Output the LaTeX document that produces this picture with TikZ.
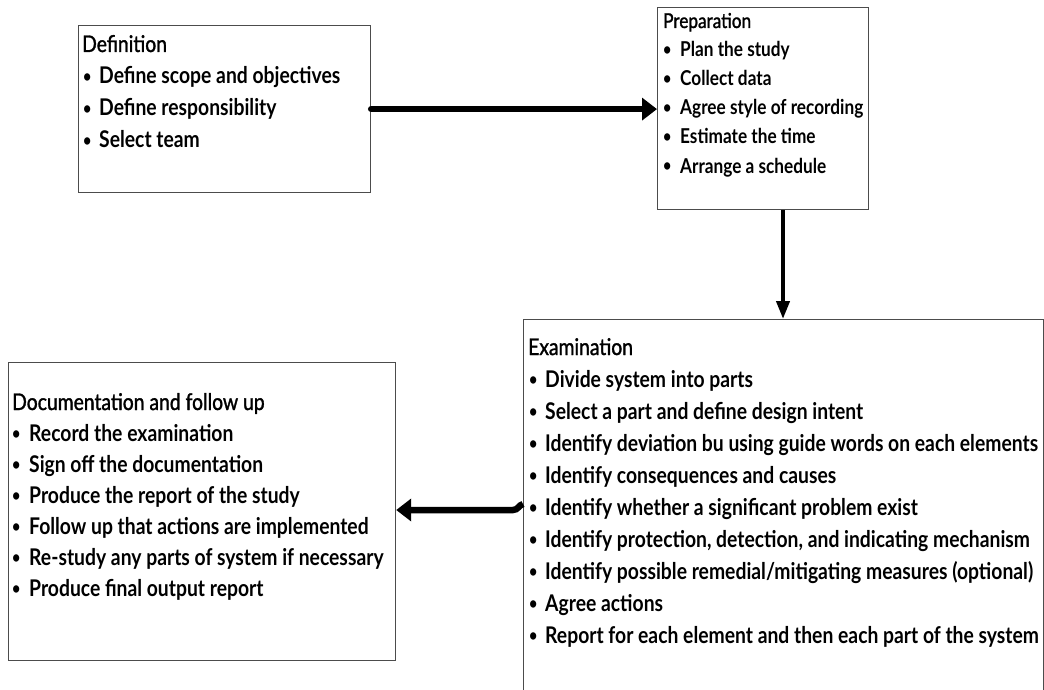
\documentclass[tikz,border=0pt]{standalone}
\usepackage{fontspec}
\setmainfont{Lato}[FakeStretch=0.84]
\newfontfamily\medfont{Lato}[FakeStretch=0.84, FakeBold=1.3]
\usetikzlibrary{arrows.meta}
\newcommand\dotmark[1]{\makebox[#1][l]{\raisebox{1.6pt}{\fontsize{17}{17}\selectfont\bfseries •}}}
\begin{document}
\begin{tikzpicture}[x=1pt,y=-1pt]
\tikzset{
  frame/.style={draw=black!70, line width=1.2pt, inner sep=0pt, anchor=north west},
  head/.style={anchor=base west, inner sep=0pt, font=\fontsize{23}{28}\medfont},
  item/.style={anchor=base west, inner sep=0pt, font=\fontsize{23}{28}\selectfont\bfseries},
  shead/.style={head, font=\fontsize{20.5}{24}\medfont},
  sitem/.style={item, font=\fontsize{20.5}{24}\selectfont\bfseries},
  fat/.style={line width=6.5pt, line cap=round, -{Triangle[length=15pt,width=22pt]}},
  slim/.style={line width=4pt, -{Triangle[length=18pt,width=13pt]}},
}
\useasboundingbox (0,0) rectangle (1044,690);
\clip (0,0) rectangle (1044,690);

% boxes
\node[frame, minimum width=292pt, minimum height=167pt] (def) at (78,25) {};
\node[frame, minimum width=211pt, minimum height=202pt] (prep) at (657,7) {};
\node[frame, minimum width=520pt, minimum height=400pt] (exam) at (523,319) {};
\node[frame, minimum width=387pt, minimum height=298pt] (doc) at (8,362) {};

% Definition
\node[head] (defh) at (82,52) {Definition};
\foreach \t [count=\i] in {Define scope and objectives, Define responsibility, Select team}
  \node[item] (def\i) at (83,52+32*\i) {\dotmark{16pt}\t};

% Preparation
\node[shead] (preph) at (663,28) {Preparation};
\foreach \t [count=\i] in {Plan the study, Collect data, Agree style of recording, Estimate the time, Arrange a schedule}
  \node[sitem] (prep\i) at (663,28+29*\i) {\dotmark{17pt}\t};

% Examination
\node[head] (examh) at (528,355) {Examination};
\foreach \t [count=\i] in {Divide system into parts, Select a part and define design intent,
  Identify deviation bu using guide words on each elements, Identify consequences and causes,
  Identify whether a significant problem exist, {Identify protection, detection, and indicating mechanism},
  Identify possible remedial/mitigating measures (optional), Agree actions,
  Report for each element and then each part of the system}
  \node[item] (exam\i) at (529,355+32*\i) {\dotmark{16pt}\t};

% Documentation and follow up
\node[head] (doch) at (12,410) {Documentation and follow up};
\foreach \t [count=\i] in {Record the examination, Sign off the documentation, Produce the report of the study,
  Follow up that actions are implemented, Re-study any parts of system if necessary, Produce final output report}
  \node[item] (doc\i) at (12,410+31*\i) {\dotmark{17pt}\t};

% connectors
\draw[fat] (def.east) -- (def.east -| prep.west);
\coordinate (vx) at (783,0);
\draw[slim] (prep.south -| vx) -- (exam.north -| vx);
\coordinate (ly) at (0,504);
\coordinate (ry) at (0,510);
\draw[fat, line cap=butt] (exam.west |- ly) .. controls (519,505) and (518,510) .. (513,510) -- (doc.east |- ry);
\end{tikzpicture}
\end{document}
